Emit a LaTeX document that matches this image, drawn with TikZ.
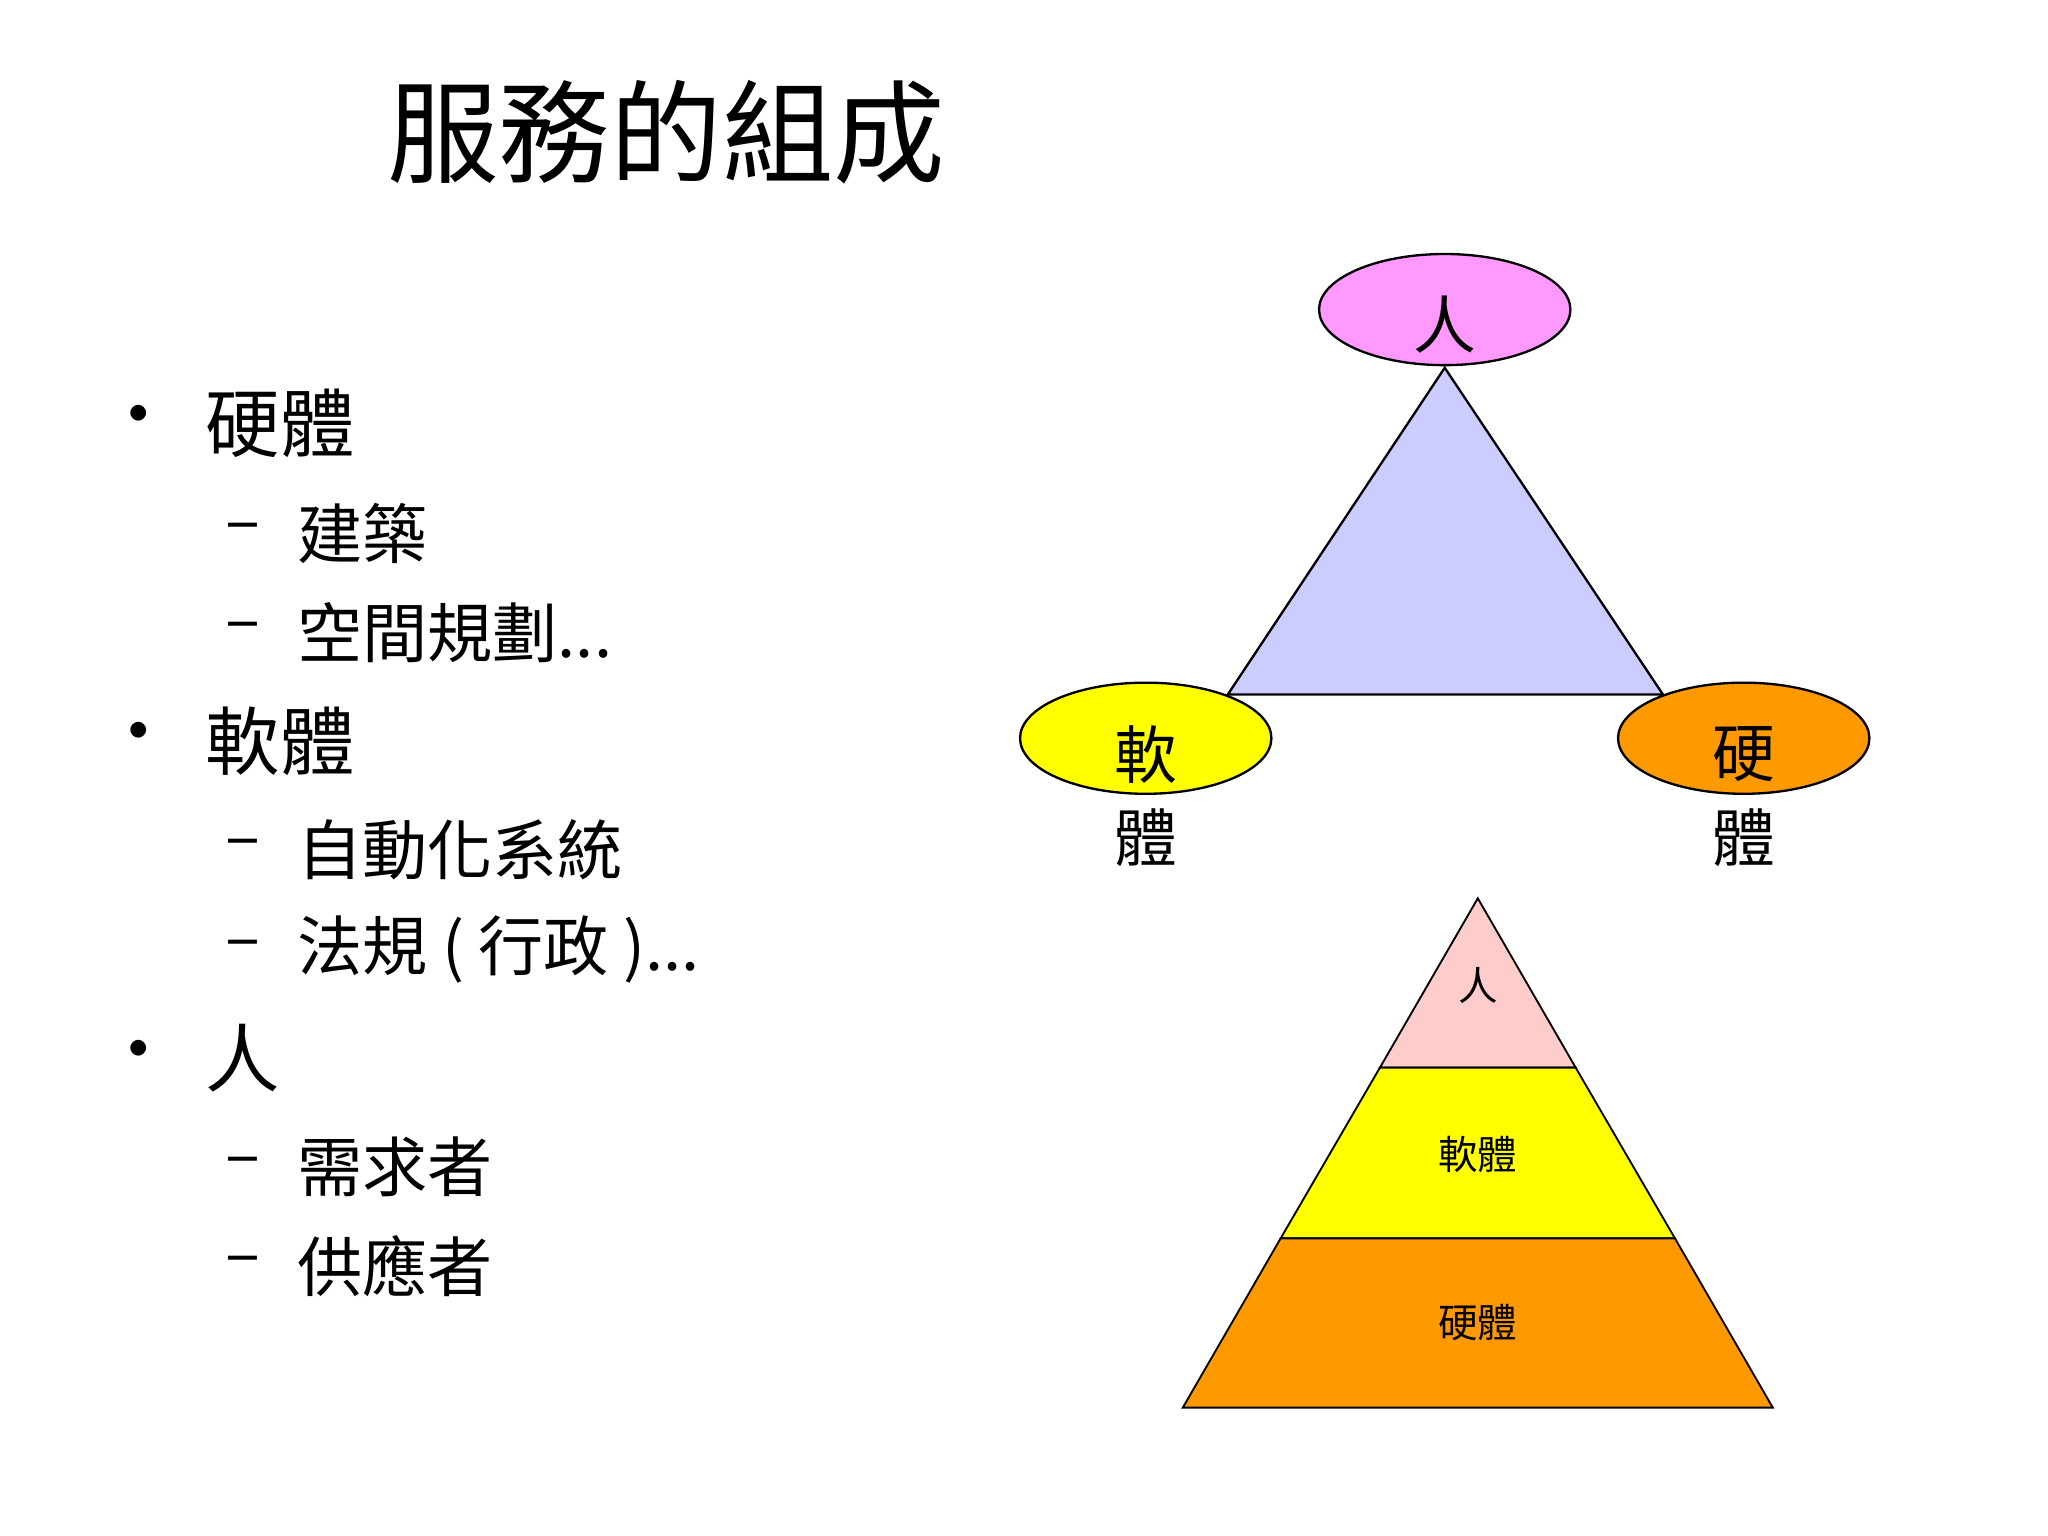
\documentclass[tikz,border=0pt]{standalone}
\usepackage{fontspec}
\setmainfont{Noto Sans CJK TC}
\usetikzlibrary{shapes.geometric}
\definecolor{pinkE}{HTML}{FF99FF}
\definecolor{lav}{HTML}{CCCCFF}
\definecolor{yel}{HTML}{FFFF00}
\definecolor{ora}{HTML}{FF9900}
\definecolor{lpink}{HTML}{FFCCCC}
\begin{document}
\begin{tikzpicture}[x=0.01cm,y=-0.01cm,
  bul/.style={anchor=center,font=\fontsize{16}{18}\selectfont},
  lvone/.style={anchor=west,font=\fontsize{16}{18}\selectfont,inner sep=0},
  lvtwo/.style={anchor=west,font=\fontsize{14}{16}\selectfont,inner sep=0},
  ell/.style={ellipse,draw=black,line width=0.5pt,minimum width=190\pgflinewidth,inner sep=0},
  elab/.style={font=\fontsize{13.5}{15}\selectfont,inner sep=0},
  plab/.style={font=\fontsize{8.5}{10}\selectfont,inner sep=0}]
\useasboundingbox (0,0) rectangle (1548,1161);
\fill[white] (0,0) rectangle (1548,1161);
\node[font=\fontsize{24}{28}\selectfont,anchor=west,inner sep=0] (title) at (292,100) {服務的組成};
% bullets
\node[bul] (b1) at (105,320) {•}; \node[lvone] (t1) at (155,320) {硬體};
\node[lvtwo] (d11) at (170,403) {–}; \node[lvtwo] (s11) at (224,403) {建築};
\node[lvtwo] (d12) at (170,478) {–}; \node[lvtwo] (s12) at (224,478) {空間規劃...};
\node[bul] (b2) at (105,560) {•}; \node[lvone] (t2) at (155,560) {軟體};
\node[lvtwo] (d21) at (170,642) {–}; \node[lvtwo] (s21) at (224,642) {自動化系統};
\node[lvtwo] (d22) at (170,718) {–}; \node[lvtwo] (s22) at (224,718) {法規 ( 行政 )...};
\node[bul] (b3) at (105,800) {•}; \node[lvone] (t3) at (155,800) {人};
\node[lvtwo] (d31) at (170,882) {–}; \node[lvtwo] (s31) at (224,882) {需求者};
\node[lvtwo] (d32) at (170,957) {–}; \node[lvtwo] (s32) at (224,957) {供應者};
% triangle
\coordinate (ta) at (1092,278); \coordinate (tl) at (928,525); \coordinate (tr) at (1257,525);
\filldraw[fill=lav,draw=black,line width=0.5pt] (ta) -- (tl) -- (tr) -- cycle;
\filldraw[fill=pinkE,draw=black,line width=0.5pt] (1092,234) ellipse [x radius=95,y radius=42];
\filldraw[fill=yel,draw=black,line width=0.5pt] (866,558) ellipse [x radius=95,y radius=42];
\filldraw[fill=ora,draw=black,line width=0.5pt] (1318,558) ellipse [x radius=95,y radius=42];
\node[elab] (lp) at (1092,245) {人};
\node[elab] (ls1) at (866,570) {軟};
\node[elab] (ls2) at (866,633) {體};
\node[elab] (lh1) at (1318,570) {硬};
\node[elab] (lh2) at (1318,633) {體};
% pyramid
\coordinate (pa) at (1117,679);
\coordinate (p1l) at (1043,807); \coordinate (p1r) at (1191,807);
\coordinate (p2l) at (968,936); \coordinate (p2r) at (1266,936);
\coordinate (pbl) at (894,1064); \coordinate (pbr) at (1340,1064);
\filldraw[fill=lpink,draw=black,line width=0.4pt] (pa) -- (p1l) -- (p1r) -- cycle;
\filldraw[fill=yel,draw=black,line width=0.4pt] (p1l) -- (p2l) -- (p2r) -- (p1r) -- cycle;
\filldraw[fill=ora,draw=black,line width=0.4pt] (p2l) -- (pbl) -- (pbr) -- (p2r) -- cycle;
\node[plab] (pl1) at (1117,745) {人};
\node[plab] (pl2) at (1117,873) {軟體};
\node[plab] (pl3) at (1117,1000) {硬體};
\end{tikzpicture}
\end{document}
